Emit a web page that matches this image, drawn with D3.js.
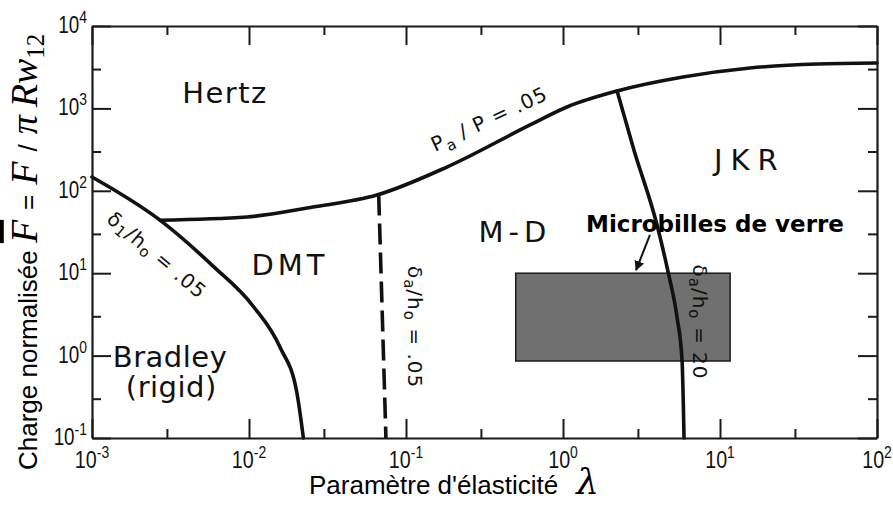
<!DOCTYPE html>
<html><head><meta charset="utf-8">
<script src="https://cdn.jsdelivr.net/npm/d3@7"></script>
<style>
html,body{margin:0;padding:0;background:#fff;}
svg{display:block;}
</style></head><body>
<svg id="chart" width="893" height="505"></svg>
<script>
// ---- axis ticks ----
const xTickValues = [1e-3, 1e-2, 1e-1, 1e0, 1e1, 1e2];
const xTickExponents = ["-3", "-2", "-1", "0", "1", "2"];
const yTickValues = [1e-1, 1e0, 1e1, 1e2, 1e3, 1e4];
const yTickExponents = ["-1", "0", "1", "2", "3", "4"];
const xMinorTicks = [3e-3, 3e-2, 3e-1, 3, 30];
const yMinorTicks = [0.3, 3, 30, 300, 3000];

// ---- boundary curves (lambda, F) ----
const rigidLambda = [0.001, 0.00271, 0.0059, 0.0106, 0.01574, 0.0202, 0.0222];
const rigidF = [147, 44, 12.2, 4.0, 1.27, 0.352, 0.1];
const pressureLambda = [0.00271, 0.0097, 0.0256, 0.0653, 0.182, 0.617, 1.06, 2.21, 5.81, 15.5, 41.5, 100];
const pressureF = [44, 48.1, 63.5, 88.9, 194, 630, 1040, 1626, 2404, 3090, 3460, 3560];
const dmtLambda = [0.067, 0.0745];
const dmtF = [90, 0.1];
const jkrLambda = [2.21, 2.83, 3.97, 4.67, 5.32, 5.73, 5.90];
const jkrF = [1626, 313, 38.5, 10.35, 2.94, 0.885, 0.1];

// ---- glass microbeads box + arrow ----
const glassLambda = [0.5, 11.6];
const glassF = [0.86, 10];
const arrowLambda = [3.58, 2.92];
const arrowF = [29.1, 10.9];

// ---- region labels ----
const regionNames = ["Hertz", "DMT", "M-D", "JKR", "Bradley", "(rigid)"];
const regionLambda = [0.00703, 0.01824, 0.494, 15.5, 0.00314, 0.0032];
const regionF = [1164, 9.5, 23.9, 178, 0.728, 0.315];
const regionSpacing = [1.5, 4, 5, 8, 0.5, 0.5];

// ---- curve labels (rich text parts) ----
const curveLabelParts = [
  [["P", ""], ["a", "sub"], [" / P = .05", ""]],
  [["δ", ""], ["1", "sub"], ["/h", ""], ["o", "sub"], [" = .05", ""]],
  [["δ", ""], ["a", "sub"], ["/h", ""], ["o", "sub"], [" = .05", ""]],
  [["δ", ""], ["a", "sub"], ["/h", ""], ["o", "sub"], [" = 20", ""]]
];
const curveLabelLambda = [0.153, 0.00259, 0.114, 7.46];
const curveLabelF = [296, 16.6, 2.22, 2.56];
const curveLabelAngle = [-25, 40, 90, 90];
const curveLabelAnchor = ["start", "middle", "middle", "middle"];

const glassLabel = "Microbilles de verre";
const glassLabelLambda = 9.29;
const glassLabelF = 31.6;

const svg = d3.select("#chart");
svg.append("rect").attr("width", 893).attr("height", 505).attr("fill", "#fff");

const x = d3.scaleLog().domain([1e-3, 1e2]).range([92, 877]);
const y = d3.scaleLog().domain([1e-1, 1e4]).range([438, 26]);

const ink = "#111";

// glass box
svg.append("rect")
  .attr("x", x(glassLambda[0]))
  .attr("y", y(glassF[1]))
  .attr("width", x(glassLambda[1]) - x(glassLambda[0]))
  .attr("height", y(glassF[0]) - y(glassF[1]))
  .attr("fill", "#707070")
  .attr("stroke", "#1a1a1a")
  .attr("stroke-width", 1.5);

// curves
const line = d3.line().x(d => x(d[0])).y(d => y(d[1])).curve(d3.curveMonotoneX);
const zip = (a, b) => a.map((v, i) => [v, b[i]]);

[[rigidLambda, rigidF], [pressureLambda, pressureF], [jkrLambda, jkrF]].forEach(([l, f]) => {
  svg.append("path").attr("d", line(zip(l, f)))
    .attr("fill", "none").attr("stroke", ink).attr("stroke-width", 3.6)
    .attr("stroke-linecap", "round").attr("stroke-linejoin", "round");
});
svg.append("path").attr("d", d3.line().x(d => x(d[0])).y(d => y(d[1]))(zip(dmtLambda, dmtF)))
  .attr("fill", "none").attr("stroke", ink).attr("stroke-width", 3.6)
  .attr("stroke-dasharray", "21,8");

// arrow
const defs = svg.append("defs");
defs.append("marker").attr("id", "arr").attr("viewBox", "0 0 10 10")
  .attr("refX", 9).attr("refY", 5).attr("markerWidth", 5).attr("markerHeight", 5)
  .attr("orient", "auto")
  .append("path").attr("d", "M0,0 L10,5 L0,10 z").attr("fill", ink);
svg.append("line")
  .attr("x1", x(arrowLambda[0])).attr("y1", y(arrowF[0]))
  .attr("x2", x(arrowLambda[1])).attr("y2", y(arrowF[1]))
  .attr("stroke", ink).attr("stroke-width", 2).attr("marker-end", "url(#arr)");

// region labels
regionNames.forEach((n, i) => {
  svg.append("text").attr("x", x(regionLambda[i])).attr("y", y(regionF[i]))
    .attr("text-anchor", "middle")
    .attr("font-family", "'DejaVu Sans', sans-serif")
    .attr("font-size", 29)
    .attr("letter-spacing", regionSpacing[i])
    .attr("fill", ink)
    .text(n);
});

// curve labels
function rich(textSel, parts, size) {
  parts.forEach(([t, kind], k) => {
    const ts = textSel.append("tspan").text(t);
    if (kind === "sub") {
      ts.attr("font-size", size * 0.75).attr("dy", size * 0.28);
    } else if (k > 0 && parts[k - 1][1] === "sub") {
      ts.attr("dy", -size * 0.28);
    }
  });
}
curveLabelParts.forEach((parts, i) => {
  const g = svg.append("g")
    .attr("transform", `translate(${x(curveLabelLambda[i])},${y(curveLabelF[i])}) rotate(${curveLabelAngle[i]})`);
  const t = g.append("text")
    .attr("text-anchor", curveLabelAnchor[i])
    .attr("dominant-baseline", curveLabelAnchor[i] === "start" ? "alphabetic" : "central")
    .attr("font-family", "'DejaVu Sans', sans-serif")
    .attr("font-size", 20)
    .attr("letter-spacing", 1)
    .attr("fill", ink);
  rich(t, parts, 20);
});

// glass label
svg.append("text").attr("x", x(glassLabelLambda)).attr("y", y(glassLabelF))
  .attr("text-anchor", "middle")
  .attr("font-family", "'DejaVu Sans', sans-serif")
  .attr("font-weight", "bold")
  .attr("font-size", 23)
  .attr("fill", "#000")
  .text(glassLabel);

// axes
function styleAxis(g, w) {
  g.selectAll(".domain").attr("stroke", "#1a1a1a").attr("stroke-width", w);
  g.selectAll(".tick line").attr("stroke", "#1a1a1a").attr("stroke-width", 2);
  g.selectAll(".tick text").remove();
}
[[d3.axisBottom(x), `translate(0,${y(1e-1)})`], [d3.axisTop(x), `translate(0,${y(1e4)})`]].forEach(([ax, tr]) => {
  svg.append("g").attr("transform", tr)
    .call(ax.tickValues(xMinorTicks).tickSizeInner(-9).tickSizeOuter(0).tickFormat(""))
    .call(g => { g.select(".domain").remove(); styleAxis(g, 2); });
});
[[d3.axisLeft(y), `translate(${x(1e-3)},0)`], [d3.axisRight(y), `translate(${x(1e2)},0)`]].forEach(([ax, tr]) => {
  svg.append("g").attr("transform", tr)
    .call(ax.tickValues(yMinorTicks).tickSizeInner(-9).tickSizeOuter(0).tickFormat(""))
    .call(g => { g.select(".domain").remove(); styleAxis(g, 2); });
});
[[d3.axisBottom(x), `translate(0,${y(1e-1)})`], [d3.axisTop(x), `translate(0,${y(1e4)})`]].forEach(([ax, tr]) => {
  svg.append("g").attr("transform", tr)
    .call(ax.tickValues(xTickValues).tickSizeInner(-19).tickSizeOuter(0).tickFormat(""))
    .call(g => styleAxis(g, 2.2));
});
[[d3.axisLeft(y), `translate(${x(1e-3)},0)`], [d3.axisRight(y), `translate(${x(1e2)},0)`]].forEach(([ax, tr]) => {
  svg.append("g").attr("transform", tr)
    .call(ax.tickValues(yTickValues).tickSizeInner(-19).tickSizeOuter(0).tickFormat(""))
    .call(g => styleAxis(g, 2.2));
});

// tick labels (condensed look via horizontal scaling)
const tickFont = "'Liberation Sans', Arial, sans-serif";
xTickValues.forEach((v, i) => {
  const t = svg.append("text")
    .attr("transform", `translate(${x(v)},468) scale(0.82,1)`)
    .attr("text-anchor", "middle").attr("font-family", tickFont)
    .attr("font-size", 24).attr("fill", ink);
  t.append("tspan").text("10");
  t.append("tspan").text(xTickExponents[i]).attr("font-size", 17).attr("dy", -10);
});
yTickValues.forEach((v, i) => {
  const t = svg.append("text")
    .attr("transform", `translate(87,${y(v) + 7}) scale(0.82,1)`)
    .attr("text-anchor", "end").attr("font-family", tickFont)
    .attr("font-size", 23).attr("fill", ink);
  t.append("tspan").text("10");
  t.append("tspan").text(yTickExponents[i]).attr("font-size", 17).attr("dy", -10);
});

// x axis title
const xt = svg.append("text").attr("x", 309).attr("y", 494)
  .attr("font-family", "'Liberation Sans', Arial, sans-serif").attr("font-size", 26).attr("fill", "#000");
xt.append("tspan").text("Paramètre d'élasticité");
xt.append("tspan").text("λ").attr("dx", 18).attr("font-family", "'DejaVu Serif', serif")
  .attr("font-style", "italic").attr("font-size", 36);

// y axis title
const yt = svg.append("text").attr("transform", "translate(37,470) rotate(-90)")
  .attr("font-family", "'Liberation Sans', Arial, sans-serif").attr("font-size", 26).attr("fill", "#000");
const mathFont = "'Liberation Serif', serif";
yt.append("tspan").text("Charge normalisée ");
yt.append("tspan").text("F").attr("font-family", mathFont).attr("font-style", "italic").attr("font-size", 38)
  .style("text-decoration", "overline");
yt.append("tspan").text("=").attr("dx", 10);
yt.append("tspan").text("F").attr("dx", 10).attr("font-family", mathFont).attr("font-style", "italic").attr("font-size", 38);
yt.append("tspan").text("/").attr("dx", 10);
yt.append("tspan").text("π").attr("dx", 10).attr("font-family", mathFont).attr("font-style", "italic").attr("font-size", 38);
yt.append("tspan").text("Rw").attr("dx", 8).attr("font-family", mathFont).attr("font-style", "italic").attr("font-size", 38);
yt.append("tspan").text("12").attr("font-family", mathFont).attr("font-size", 25).attr("dy", 7);
</script>
</body></html>
